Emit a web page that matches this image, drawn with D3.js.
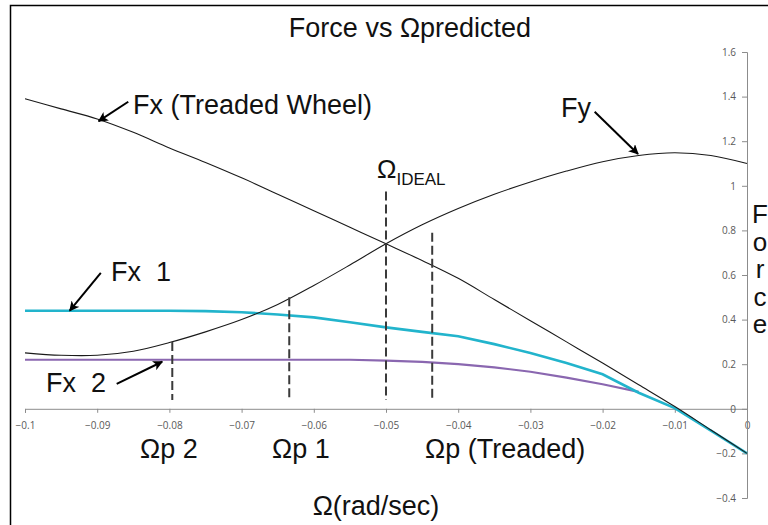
<!DOCTYPE html>
<html>
<head>
<meta charset="utf-8">
<script src="https://cdn.jsdelivr.net/npm/d3@7/dist/d3.min.js"></script>
<style>
  html, body { margin: 0; padding: 0; background: #fff; }
  svg { display: block; }
  .lbl { font-family: "Liberation Sans", Arial, sans-serif; fill: #111; white-space: pre; }
  .tick text { font-family: "Open Sans", sans-serif; font-size: 10px; fill: #595959; }
</style>
</head>
<body>
<svg id="chart" width="768" height="525"></svg>
<script>
// Angular velocity samples (rad/sec)
const omega = [-0.1, -0.095, -0.09, -0.085, -0.08, -0.075, -0.07, -0.065, -0.06, -0.055, -0.05,
               -0.045, -0.04, -0.035, -0.03, -0.025, -0.02, -0.015, -0.01, -0.005, 0];

// Longitudinal force, treaded wheel
const fxTreaded = [1.39, 1.345, 1.30, 1.24, 1.17, 1.105, 1.036, 0.962, 0.888, 0.814, 0.74,
                   0.665, 0.585, 0.49, 0.395, 0.30, 0.205, 0.108, 0.01, -0.095, -0.2];
// Lateral force
const fy = [0.251, 0.240, 0.240, 0.258, 0.297, 0.345, 0.40, 0.468, 0.553, 0.645, 0.74,
            0.825, 0.898, 0.962, 1.017, 1.066, 1.108, 1.136, 1.148, 1.136, 1.10];
// Longitudinal force, wheel 1
const fx1 = [0.44, 0.44, 0.44, 0.44, 0.44, 0.438, 0.433, 0.423, 0.41, 0.388, 0.365,
             0.345, 0.325, 0.29, 0.25, 0.205, 0.155, 0.072, 0.003, -0.098, -0.2];
// Longitudinal force, wheel 2 (ends at -0.015)
const fx2Omega = [-0.1, -0.09, -0.08, -0.07, -0.06, -0.055, -0.05, -0.045, -0.04, -0.035, -0.03, -0.025, -0.02, -0.015];
const fx2 = [0.22, 0.22, 0.22, 0.22, 0.22, 0.22, 0.216, 0.21, 0.20, 0.186, 0.166, 0.14, 0.11, 0.076];

// Predicted operating points (dashed markers)
const markerNames = ["Ωp 2", "Ωp 1", "Ω IDEAL", "Ωp (Treaded)"];
const markerOmega = [-0.0796, -0.0634, -0.05, -0.0436];
const markerTop = [0.30, 0.50, 0.975, 0.79];
const markerBottom = [0.04, 0.04, 0.04, 0.04];

// Axis ticks
const xTicks = [-0.1, -0.09, -0.08, -0.07, -0.06, -0.05, -0.04, -0.03, -0.02, -0.01, 0];
const yTicks = [-0.4, -0.2, 0, 0.2, 0.4, 0.6, 0.8, 1, 1.2, 1.4, 1.6];

// Callout arrows: [omega, force] of tail and tip
const arrowNames = ["Fx (Treaded Wheel)", "Fy", "Fx  1", "Fx  2"];
const arrowTail = [[-0.0857, 1.377], [-0.0211, 1.332], [-0.0895, 0.61], [-0.0873, 0.112]];
const arrowTip = [[-0.0898, 1.29], [-0.0151, 1.143], [-0.0938, 0.44], [-0.081, 0.211]];

const svg = d3.select("#chart");

const x = d3.scaleLinear().domain([-0.1, 0]).range([25, 747]);
const y = d3.scaleLinear().domain([-0.4, 1.6]).range([498, 52]);

// frame
svg.append("path").attr("d", "M10.5,525 L10.5,5.5 L768,5.5")
  .attr("fill", "none").attr("stroke", "#000").attr("stroke-width", 1.5);

// x axis along Force = 0
const xAxis = svg.append("g").attr("transform", `translate(0,${y(0)})`)
  .call(d3.axisBottom(x).tickValues(xTicks).tickSize(4).tickPadding(7)
        .tickFormat(d => d === 0 ? "0" : d3.format(".2~f")(d)));
xAxis.select(".domain").attr("stroke", "#8c8c8c");
xAxis.selectAll(".tick line").attr("stroke", "#8c8c8c");
xAxis.selectAll(".tick text").attr("dy", "0.9em");

// y axis at the right (Omega = 0)
const yAxis = svg.append("g").attr("transform", `translate(${x(0)},0)`)
  .call(d3.axisLeft(y).tickValues(yTicks).tickSize(5).tickPadding(6)
        .tickFormat(d => d3.format("~g")(d)));
yAxis.select(".domain").attr("stroke", "#8c8c8c");
yAxis.selectAll(".tick line").attr("stroke", "#8c8c8c");

// series
const lineSmooth = d3.line().x(d => x(d[0])).y(d => y(d[1])).curve(d3.curveCatmullRom.alpha(0.5));
const lineStraight = d3.line().x(d => x(d[0])).y(d => y(d[1])).curve(d3.curveLinear);

svg.append("path").datum(d3.zip(fx2Omega, fx2))
  .attr("d", lineStraight).attr("fill", "none").attr("stroke", "#8a67b0").attr("stroke-width", 2.2);
svg.append("path").datum(d3.zip(omega, fx1))
  .attr("d", lineStraight).attr("fill", "none").attr("stroke", "#22b4cc").attr("stroke-width", 2.6);
svg.append("path").datum(d3.zip(omega, fxTreaded))
  .attr("d", lineSmooth).attr("fill", "none").attr("stroke", "#1a1a1a").attr("stroke-width", 1.1);
svg.append("path").datum(d3.zip(omega, fy))
  .attr("d", lineSmooth).attr("fill", "none").attr("stroke", "#1a1a1a").attr("stroke-width", 1.1);

// dashed markers
svg.append("g").selectAll("line").data(markerOmega).join("line")
  .attr("x1", d => x(d)).attr("x2", d => x(d))
  .attr("y1", (d, i) => y(markerTop[i])).attr("y2", (d, i) => y(markerBottom[i]))
  .attr("stroke", "#3a3a3a").attr("stroke-width", 2).attr("stroke-dasharray", "9,4");

// arrowhead
svg.append("defs").append("marker")
  .attr("id", "head").attr("viewBox", "0 0 10 10").attr("refX", 9).attr("refY", 5)
  .attr("markerWidth", 5).attr("markerHeight", 5).attr("orient", "auto")
  .attr("markerUnits", "strokeWidth")
  .append("path").attr("d", "M0,0 L10,5 L0,10 L2.5,5 Z").attr("fill", "#000");

svg.append("g").selectAll("line").data(arrowNames).join("line")
  .attr("x1", (d, i) => x(arrowTail[i][0])).attr("y1", (d, i) => y(arrowTail[i][1]))
  .attr("x2", (d, i) => x(arrowTip[i][0])).attr("y2", (d, i) => y(arrowTip[i][1]))
  .attr("stroke", "#000").attr("stroke-width", 2).attr("marker-end", "url(#head)");

// text
function label(txt, px, py, size, anchor) {
  return svg.append("text").attr("class", "lbl").attr("x", px).attr("y", py)
    .attr("font-size", size).attr("text-anchor", anchor || "start").text(txt);
}
label("Force vs Ωpredicted", 410, 37, 27, "middle");
label(arrowNames[0], 133, 114, 27);
label(arrowNames[1], 561, 117, 27);
label(arrowNames[2], 111, 281, 27);
label(arrowNames[3], 46, 392, 27);

const ideal = svg.append("text").attr("class", "lbl").attr("x", 377).attr("y", 178).attr("font-size", 26);
ideal.append("tspan").text("Ω");
ideal.append("tspan").attr("font-size", 17).attr("dy", 7).text("IDEAL");

label(markerNames[0], 140, 458, 27);
label(markerNames[1], 272, 458, 27);
label(markerNames[3], 425, 458, 27);
label("Ω(rad/sec)", 376, 515, 27, "middle");

// vertical axis title, one letter per line
const yTitle = "Force".split("");
svg.append("g").selectAll("text").data(yTitle).join("text")
  .attr("class", "lbl").attr("font-size", 26).attr("text-anchor", "middle")
  .attr("x", 760).attr("y", (d, i) => 223 + i * 27.5).text(d => d);
</script>
</body>
</html>
